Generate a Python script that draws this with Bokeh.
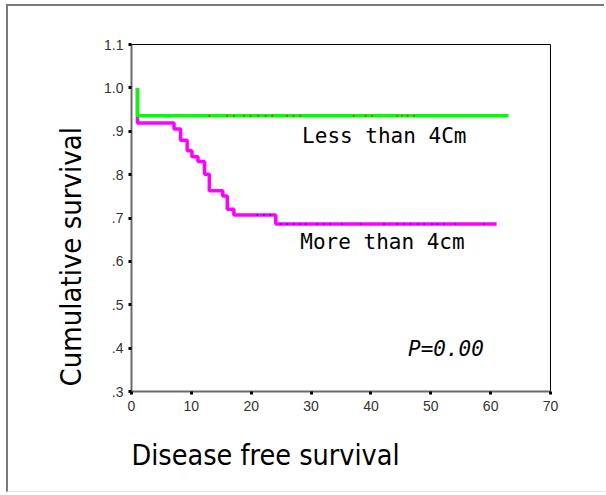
from bokeh.plotting import figure
from bokeh.models import Range1d, FixedTicker, Label, Title
from bokeh.embed import file_html
from bokeh.resources import INLINE

# ---- data ----
small_times = [1, 1, 63]
small_surv = [1.0, 0.9355, 0.9355]
small_censor_t = [13.0, 16.0, 17.1, 18.8, 19.9, 21.2, 22.4, 23.5, 26.0, 27.1, 28.2,
                  37.1, 39.1, 40.2, 44.4, 45.2, 46.1, 47.2]

large_times = [1, 1, 7.1, 8.2, 9.3, 10.1, 11.1, 12.2, 13.0, 15.25, 16.0, 17.1, 24.1, 61]
large_surv = [1.0, 0.919, 0.905, 0.879, 0.855, 0.841, 0.830, 0.801, 0.763, 0.751,
              0.720, 0.707, 0.686, 0.686]
large_censor_t = [21.0, 22.1, 23.2, 24.9, 26.0, 27.1, 28.2, 29.1, 31.0, 32.1, 33.2,
                  35.2, 38.3, 42.2, 44.4, 45.5, 46.6, 47.8, 48.9, 50.2, 51.1, 52.2,
                  54.1, 58.9]

x_ticks = [0, 10, 20, 30, 40, 50, 60, 70]
y_ticks = [0.3, 0.4, 0.5, 0.6, 0.7, 0.8, 0.9, 1.0, 1.1]
y_tick_labels = [".3", ".4", ".5", ".6", ".7", ".8", ".9", "1.0", "1.1"]

label_small = "Less than 4Cm"
label_large = "More than 4cm"
p_text = "P=0.00"
x_title = "Disease free survival"
y_title = "Cumulative survival"


def surv_at(times, surv, t):
    s = surv[0]
    for ti, si in zip(times, surv):
        if ti <= t:
            s = si
    return s


p = figure(width=598, height=488, output_backend="svg", toolbar_location=None,
           x_range=Range1d(0, 70), y_range=Range1d(0.3, 1.1),
           min_border_left=123, min_border_right=56, min_border_top=38,
           min_border_bottom=102)
p.styles = {"margin-left": "6px", "margin-top": "4px",
            "border-top": "2px solid #7a7a7a", "border-left": "2px solid #7a7a7a",
            "border-bottom": "1px solid #e4e4e4"}

p.grid.visible = False
p.outline_line_color = "black"
p.outline_line_width = 1

for ax in (p.xaxis[0], p.yaxis[0]):
    ax.axis_line_color = "#6a6a6a"
    ax.axis_line_width = 2
    ax.major_tick_line_color = "black"
    ax.major_tick_line_width = 3
    ax.major_tick_in = 0
    ax.major_tick_out = 3
    ax.minor_tick_line_color = None
    ax.major_label_text_font = "Liberation Sans"
    ax.major_label_text_font_size = "14px"
    ax.major_label_text_color = "#333333"

p.xaxis.ticker = FixedTicker(ticks=x_ticks)
p.yaxis.ticker = FixedTicker(ticks=y_ticks)
p.yaxis.major_label_overrides = {t: s for t, s in zip(y_ticks, y_tick_labels)}
p.xaxis.major_label_standoff = 6
p.yaxis.major_label_standoff = 5

# curves
p.step(large_times, large_surv, mode="after", line_color="#ff00ff", line_width=3.5)
p.step(small_times, small_surv, mode="after", line_color="#00ff00", line_width=3.5)

p.scatter(small_censor_t, [surv_at(small_times, small_surv, t) for t in small_censor_t],
          size=2, color="#c04000", line_color=None)
p.scatter(large_censor_t, [surv_at(large_times, large_surv, t) for t in large_censor_t],
          size=2, color="#2020ff", line_color=None)

mono = "DejaVu Sans Mono"
p.add_layout(Label(x=28.5, y=0.889, text=label_small, text_font=mono,
                   text_font_size="21px", text_color="black",
                   text_baseline="alphabetic"))
p.add_layout(Label(x=28.2, y=0.644, text=label_large, text_font=mono,
                   text_font_size="21px", text_color="black",
                   text_baseline="alphabetic"))
p.add_layout(Label(x=46.2, y=0.398, text=p_text, text_font=mono,
                   text_font_size="21px", text_font_style="italic",
                   text_color="black", text_baseline="alphabetic"))

title_font = "DejaVu Sans Condensed"
p.add_layout(Title(text=x_title, align="left", offset=0, standoff=46,
                   text_font=title_font, text_font_size="28.5px",
                   text_font_style="normal", text_color="black"), "below")
p.add_layout(Title(text=y_title, align="left", offset=5, standoff=27,
                   text_font=title_font, text_font_size="29px",
                   text_font_style="normal", text_color="black"), "left")

open("out.html", "w").write(file_html(p, INLINE))
